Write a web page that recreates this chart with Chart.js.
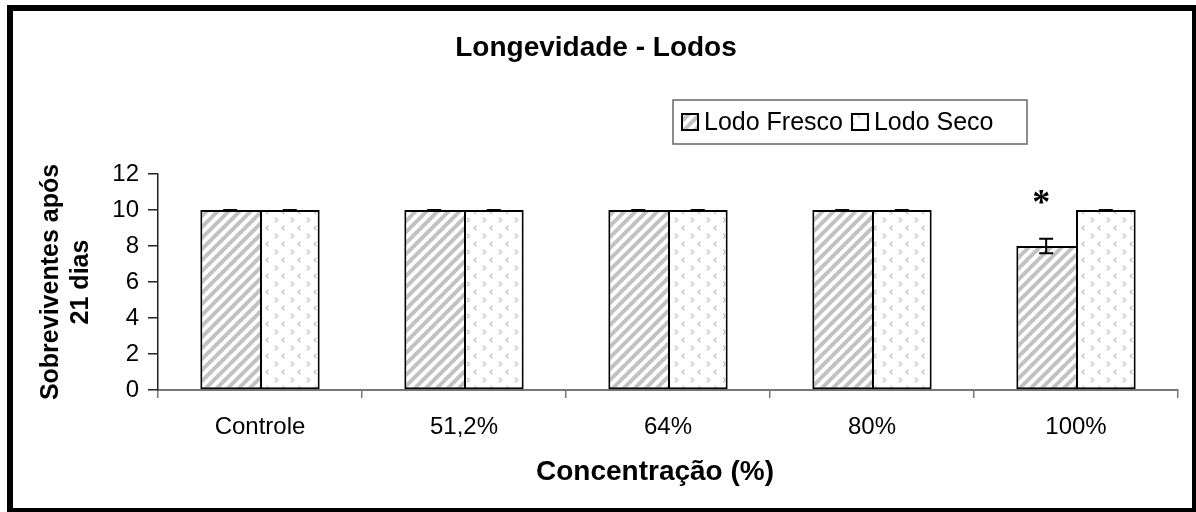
<!DOCTYPE html>
<html>
<head>
<meta charset="utf-8">
<script src="https://cdn.jsdelivr.net/npm/chart.js@4.4.1/dist/chart.umd.min.js"></script>
<style>
    body { margin: 0; background: #fff; }
</style>
</head>
<body>
<canvas id="myChart" width="1196" height="512"></canvas>
<script>
// data
let categories = ["Controle", "51,2%", "64%", "80%", "100%"];
let seriesNames = ["Lodo Fresco", "Lodo Seco"];
let fresco = [10, 10, 10, 10, 8];
let seco = [10, 10, 10, 10, 10];
let frescoErr = [0, 0, 0, 0, 0.4];
let secoErr = [0, 0, 0, 0, 0];
let frescoMarks = ["", "", "", "", "*"];
let yTicks = [0, 2, 4, 6, 8, 10, 12];
let xTitle = "Concentração (%)";

const FONT = "'Liberation Sans', Arial, sans-serif";

// diagonal stripes for Lodo Fresco
function stripePattern() {
    let c = document.createElement("canvas");
    c.width = 11; c.height = 11;
    let g = c.getContext("2d");
    g.fillStyle = "#fff";
    g.fillRect(0, 0, 11, 11);
    g.strokeStyle = "#c2c2c2";
    g.lineWidth = 4;
    g.beginPath();
    g.moveTo(-1, 12); g.lineTo(12, -1);
    g.moveTo(-6.5, 6.5); g.lineTo(6.5, -6.5);
    g.moveTo(4.5, 17.5); g.lineTo(17.5, 4.5);
    g.stroke();
    return g.createPattern(c, "repeat");
}

// little < > marks for Lodo Seco
function chevronPattern() {
    let c = document.createElement("canvas");
    c.width = 16; c.height = 16;
    let g = c.getContext("2d");
    g.fillStyle = "#fff";
    g.fillRect(0, 0, 16, 16);
    g.strokeStyle = "#c4c4c4";
    g.lineWidth = 1.2;
    g.beginPath();
    g.moveTo(12.5, 1.8); g.lineTo(10, 4); g.lineTo(12.5, 6.2);
    g.moveTo(3, 9.8); g.lineTo(5.5, 12); g.lineTo(3, 14.2);
    g.stroke();
    return g.createPattern(c, "repeat");
}

let fills = [stripePattern(), chevronPattern()];
let errs = [frescoErr, secoErr];

const framePlugin = {
    id: "frame",
    beforeDraw(chart) {
        let ctx = chart.ctx;
        ctx.save();
        ctx.fillStyle = "#fff";
        ctx.fillRect(0, 0, chart.width, chart.height);
        ctx.restore();
    },
    afterDraw(chart) {
        let ctx = chart.ctx;
        ctx.save();
        ctx.fillStyle = "#000";
        ctx.fillRect(7, 5, 1189, 6);
        ctx.fillRect(7, 5, 6, 507);
        ctx.fillRect(1192, 5, 4, 507);
        ctx.fillRect(7, 508, 1189, 4);
        // x axis title, sits a bit left of the plot centre like the original
        ctx.fillStyle = "#000";
        ctx.font = "bold 28px " + FONT;
        ctx.textAlign = "center";
        ctx.textBaseline = "middle";
        ctx.fillText(xTitle, 655, 472);
        ctx.restore();
    }
};

const errorPlugin = {
    id: "errorbars",
    afterDatasetsDraw(chart) {
        let ctx = chart.ctx;
        let y = chart.scales.y;
        ctx.save();
        ctx.strokeStyle = "#000";
        ctx.lineWidth = 2;
        chart.data.datasets.forEach((ds, i) => {
            chart.getDatasetMeta(i).data.forEach((bar, j) => {
                let v = ds.data[j], e = errs[i][j];
                let top = y.getPixelForValue(v + e);
                let bot = y.getPixelForValue(v - e);
                ctx.beginPath();
                ctx.moveTo(bar.x, top); ctx.lineTo(bar.x, bot);
                ctx.moveTo(bar.x - 7, top); ctx.lineTo(bar.x + 7, top);
                ctx.moveTo(bar.x - 7, bot); ctx.lineTo(bar.x + 7, bot);
                ctx.stroke();
            });
        });
        // significance mark
        ctx.fillStyle = "#000";
        ctx.font = "bold 36px 'Liberation Serif', serif";
        ctx.textAlign = "center";
        ctx.textBaseline = "alphabetic";
        chart.getDatasetMeta(0).data.forEach((bar, j) => {
            if (!frescoMarks[j]) return;
            let top = y.getPixelForValue(fresco[j] + frescoErr[j]);
            ctx.fillText(frescoMarks[j], bar.x - 5, top - 25);
        });
        ctx.restore();
    }
};

const legendPlugin = {
    id: "boxlegend",
    afterDraw(chart) {
        let ctx = chart.ctx;
        let x0 = 673, y0 = 100, w = 354, h = 44;
        ctx.save();
        ctx.fillStyle = "#fff";
        ctx.fillRect(x0, y0, w, h);
        ctx.strokeStyle = "#666";
        ctx.lineWidth = 1.5;
        ctx.strokeRect(x0, y0, w, h);
        ctx.font = "25px " + FONT;
        ctx.textBaseline = "middle";
        ctx.textAlign = "left";
        let x = x0 + 9;
        let cy = y0 + 22;
        seriesNames.forEach((name, i) => {
            ctx.fillStyle = fills[i];
            ctx.fillRect(x, cy - 8, 16, 16);
            ctx.strokeStyle = "#000";
            ctx.lineWidth = 2;
            ctx.strokeRect(x, cy - 8, 16, 16);
            ctx.fillStyle = "#000";
            ctx.fillText(name, x + 22, cy + 1);
            x += 22 + ctx.measureText(name).width + 9;
        });
        ctx.restore();
    }
};

new Chart("myChart", {
    type: "bar",
    data: {
        labels: categories,
        datasets: [{
            label: seriesNames[0],
            data: fresco,
            backgroundColor: fills[0],
            borderColor: "#000",
            // right edge comes from the Seco bar next to it
            borderWidth: { top: 2, right: 0, bottom: 2, left: 2 },
            borderSkipped: false,
            categoryPercentage: 0.585,
            barPercentage: 1
        }, {
            label: seriesNames[1],
            data: seco,
            backgroundColor: fills[1],
            borderColor: "#000",
            borderWidth: 2,
            borderSkipped: false,
            categoryPercentage: 0.585,
            barPercentage: 1
        }]
    },
    options: {
        responsive: false,
        animation: false,
        layout: { padding: { left: 14, right: 18, top: 0, bottom: 0 } },
        plugins: {
            legend: { display: false },
            tooltip: { enabled: false },
            title: {
                display: true,
                text: "Longevidade - Lodos",
                color: "#000",
                font: { family: FONT, size: 28, weight: "bold" },
                padding: { top: 31, bottom: 109.4 }
            }
        },
        scales: {
            x: {
                grid: { offset: true, drawOnChartArea: false, tickLength: 8, color: "#777", lineWidth: 1.5 },
                border: { color: "#777", width: 2 },
                ticks: { color: "#000", padding: 15, font: { family: FONT, size: 24 } },
                afterFit(scale) { scale.height = 122; }
            },
            y: {
                min: 0,
                max: 12,
                afterBuildTicks(scale) { scale.ticks = yTicks.map(v => ({ value: v })); },
                grid: { drawOnChartArea: false, tickLength: 10, color: "#222", lineWidth: 1.5 },
                border: { color: "#222", width: 1.5 },
                ticks: { color: "#000", padding: 9, font: { family: FONT, size: 24 } },
                title: {
                    display: true,
                    text: ["Sobreviventes após", "21 dias"],
                    color: "#000",
                    font: { family: FONT, size: 25, weight: "bold", lineHeight: 1.2 },
                    padding: { top: 22, bottom: 0 }
                },
                afterFit(scale) { scale.width = 144; }
            }
        }
    },
    plugins: [framePlugin, errorPlugin, legendPlugin]
});
</script>
</body>
</html>
